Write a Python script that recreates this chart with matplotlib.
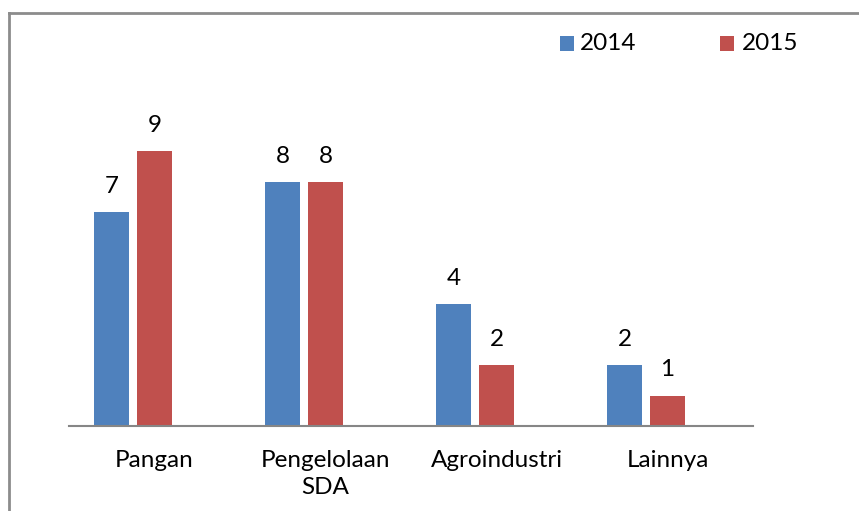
import matplotlib
matplotlib.use("Agg")
import matplotlib.pyplot as plt
from matplotlib.patches import Rectangle
from matplotlib.lines import Line2D

categories = ["Pangan", "Pengelolaan\nSDA", "Agroindustri", "Lainnya"]
series_names = ["2014", "2015"]
values_2014 = [7, 8, 4, 2]
values_2015 = [9, 8, 2, 1]
colors = ["#4F81BD", "#C0504D"]

plt.rcParams['font.family'] = ['Lato', 'DejaVu Sans']
FS = 17.5

W, H = 859, 511
fig = plt.figure(figsize=(W / 100, H / 100), dpi=100)

ax_left, ax_right = 69, 753
ax_base, ax_top = 426, 121
ax = fig.add_axes([ax_left / W, (H - ax_base) / H, (ax_right - ax_left) / W, (ax_base - ax_top) / H])
ax.set_xlim(0, 4)
ax.set_ylim(0, 10)

bw = 35 / 171
gap = 8 / 171
off = 25 / 171
for s, (vals, c) in enumerate(zip([values_2014, values_2015], colors)):
    xs = [i + off + s * (bw + gap) for i in range(len(categories))]
    bars = ax.bar(xs, vals, width=bw, align='edge', color=c, zorder=2)
    for x, v in zip(xs, vals):
        ax.annotate(str(v), (x + bw / 2, v), xytext=(0, 11), textcoords='offset points',
                    ha='center', va='bottom', fontsize=FS, color='black')

for sp in ['top', 'right', 'left']:
    ax.spines[sp].set_visible(False)
ax.spines['bottom'].set_color('#868686')
ax.spines['bottom'].set_linewidth(1.5)
ax.set_yticks([])
ax.set_xticks([i + 0.5 for i in range(len(categories))])
ax.set_xticklabels(categories, fontsize=FS, linespacing=1.35, va='top')
ax.tick_params(axis='x', length=0, pad=17)

# legend (manual)
leg_items = [(560, 580), (720, 742)]
for (sx, tx), name, c in zip(leg_items, series_names, colors):
    fig.add_artist(Rectangle((sx / W, (H - 51) / H), 14 / W, 15 / H, transform=fig.transFigure,
                             color=c, lw=0))
    fig.text(tx / W, (H - 43.5) / H, name, fontsize=FS, va='center', ha='left')

# chart border
fig.add_artist(Line2D([9 / W, 9 / W], [0, (H - 13) / H], color='#8c8c8c', lw=2, transform=fig.transFigure))
fig.add_artist(Line2D([9 / W, 1], [(H - 13) / H, (H - 13) / H], color='#8c8c8c', lw=2, transform=fig.transFigure))

fig.savefig("out.png", dpi=100)
